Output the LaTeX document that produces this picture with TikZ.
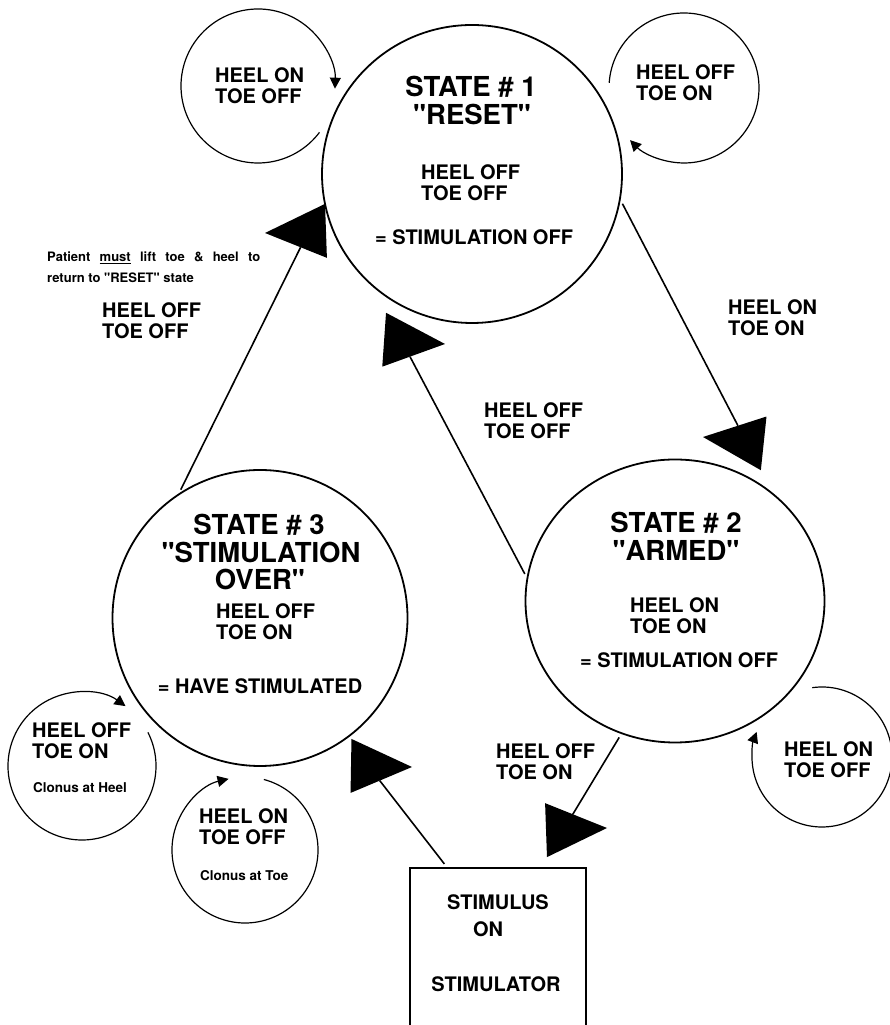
\documentclass[tikz,border=0pt]{standalone}
\usepackage{fontspec}
\setmainfont{TeX Gyre Heros}
\usetikzlibrary{shapes.geometric,arrows.meta}
\newcommand{\twoline}[2]{\begin{tabular}[t]{@{}l@{}}#1\\#2\end{tabular}}
\newcommand{\qq}{\textquotedbl}

\begin{document}
\begin{tikzpicture}[x=1pt,y=1pt,
    state/.style={draw, ellipse, line width=1.8pt, inner sep=0pt},
    loopc/.style={circle, inner sep=0pt},
    loopline/.style={line width=1.2pt, -{Triangle[length=11pt,width=11pt]}},
    edge/.style={line width=1.6pt, shorten <=4pt},
    tri/.style={isosceles triangle, isosceles triangle stretches=true, fill=black, inner sep=0pt, outer sep=0pt, minimum width=54pt, minimum height=61pt, anchor=apex},
    big/.style={font=\bfseries\fontsize{27.5}{28}\selectfont, inner sep=0pt, anchor=base},
    lbl/.style={font=\bfseries\fontsize{20}{20.5}\selectfont, inner sep=0pt},
    small/.style={font=\bfseries\fontsize{13}{21}\selectfont, inner sep=0pt, anchor=base west}]
	\useasboundingbox (0,0) rectangle (890,1025);

	% the three states and the stimulator
	\node[state, minimum width=300pt, minimum height=298pt] (s1) at (472,851) {};
	\node[state, minimum width=299pt, minimum height=283pt] (s2) at (675,424) {};
	\node[state, minimum width=295pt, minimum height=296pt] (s3) at (260,407) {};
	\node[draw, line width=1.8pt, minimum width=176pt, minimum height=162pt] (box) at (498,76) {};

	\node[big] (s1a) at (471,928) {STATE \# 1};
	\node[big] (s1b) at (472,900) {\qq RESET\qq};
	\node[lbl, anchor=base west] (s1c) at (421,845) {\twoline{HEEL OFF}{TOE OFF}};
	\node[lbl, anchor=base] (s1d) at (474,780) {= STIMULATION OFF};

	\node[big] (s2a) at (676,492) {STATE \# 2};
	\node[big] (s2b) at (676,464) {\qq ARMED\qq};
	\node[lbl, anchor=base west] (s2c) at (630,412) {\twoline{HEEL ON}{TOE ON}};
	\node[lbl, anchor=base] (s2d) at (679,357) {= STIMULATION OFF};

	\node[big] (s3a) at (259,490) {STATE \# 3};
	\node[big] (s3b) at (261,462) {\qq STIMULATION};
	\node[big] (s3c) at (260,435) {OVER\qq};
	\node[lbl, anchor=base west] (s3d) at (216,406) {\twoline{HEEL OFF}{TOE ON}};
	\node[lbl, anchor=base] (s3e) at (260,331) {= HAVE STIMULATED};

	\node[lbl, anchor=base] (boxa) at (498,115) {STIMULUS};
	\node[lbl, anchor=base] (boxb) at (488,88) {ON};
	\node[lbl, anchor=base] (boxc) at (496,33) {STIMULATOR};

	% self loops
	\node[loopc, minimum size=154pt] (l1) at (258,939) {};
	\draw[loopline] (l1.center) ++(-37:77) arc[start angle=-37, end angle=-362, radius=77];
	\node[lbl, anchor=base west] (l1t) at (215,942) {\twoline{HEEL ON}{TOE OFF}};

	\node[loopc, minimum size=150pt] (l2) at (684,937) {};
	\draw[loopline] (l2.center) ++(176:75) arc[start angle=176, end angle=-136, radius=75];
	\node[lbl, anchor=base west] (l2t) at (636,945) {\twoline{HEEL OFF}{TOE ON}};

	\node[loopc, minimum size=140pt] (l3) at (822,268) {};
	\draw[loopline] (l3.center) ++(98:70) arc[start angle=98, end angle=-201, radius=70];
	\node[lbl, anchor=base west] (l3t) at (784,268) {\twoline{HEEL ON}{TOE OFF}};

	\node[loopc, minimum size=148pt] (l4) at (82,259) {};
	\draw[loopline] (l4.center) ++(27:74) arc[start angle=27, end angle=-306, radius=74];
	\node[lbl, anchor=base west] (l4t) at (32,287) {\twoline{HEEL OFF}{TOE ON}};
	\node[small, font=\bfseries\fontsize{13.5}{16}\selectfont] (l4c) at (33,232) {Clonus at Heel};

	\node[loopc, minimum size=146pt] (l5) at (245,175) {};
	\draw[loopline] (l5.center) ++(75:73) arc[start angle=75, end angle=-257, radius=73];
	\node[lbl, anchor=base west] (l5t) at (199,201) {\twoline{HEEL ON}{TOE OFF}};
	\node[small, font=\bfseries\fontsize{13.5}{16}\selectfont] (l5c) at (200,144) {Clonus at Toe};

	% big arrow heads
	\node[tri, rotate=182] (t1) at (265,792) {};
	\node[tri, rotate=-4] (t2) at (445,681) {};
	\node[tri, rotate=174] (t3) at (703,588) {};
	\node[tri, rotate=-1] (t4) at (412,258) {};
	\node[tri, rotate=2] (t5) at (607,197) {};

	\draw[edge] (s3.123) -- (t1);
	\draw[edge] (s2.171) -- (t2);
	\draw[edge] (s1.-10) -- (t3);
	\draw[edge] (box.122) -- (t4);
	\draw[edge] (s2.248) -- (t5);

	% transition labels
	\node[lbl, anchor=base west] (e1) at (102,707) {\twoline{HEEL OFF}{TOE OFF}};
	\node[lbl, anchor=base west] (e2) at (728,710) {\twoline{HEEL ON}{TOE ON}};
	\node[lbl, anchor=base west] (e3) at (484,607) {\twoline{HEEL OFF}{TOE OFF}};
	\node[lbl, anchor=base west] (e4) at (496,266) {\twoline{HEEL OFF}{TOE ON}};

	\node[small] (note) at (47,763) {\parbox[t]{213pt}{\bfseries Patient \underline{must} lift toe \& heel to\linebreak return to \qq RESET\qq{} state}};
\end{tikzpicture}
\end{document}
